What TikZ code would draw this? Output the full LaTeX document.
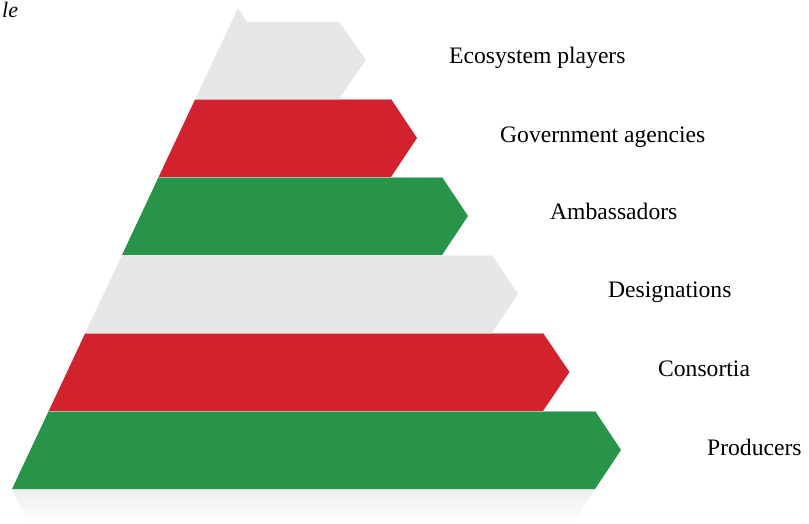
\documentclass[tikz,border=0pt]{standalone}
\usepackage{fontspec}
\setmainfont{Liberation Serif}
\definecolor{bandgray}{RGB}{230,231,232}
\definecolor{bandred}{RGB}{210,34,46}
\definecolor{bandgreen}{RGB}{39,148,74}
\definecolor{reflgray}{RGB}{238,238,238}
\begin{document}
\begin{tikzpicture}[x=1pt,y=-1pt,
  lbl/.style={anchor=base west,inner sep=0pt,font=\fontsize{23.6}{28}\selectfont}]
\useasboundingbox (0,0) rectangle (809,523);
% reflection
\shade[top color=reflgray,bottom color=white] (12,489) -- (595,489) -- (573,523) -- (28,523) -- cycle;
% bands, bottom to top
\fill[bandgreen] (12,489) -- (48.7,411) -- (595,411) -- (621,450) -- (595,489) -- cycle;
\fill[bandred] (48.7,411) -- (85.3,333) -- (543,333) -- (569.5,372) -- (543,411) -- cycle;
\fill[bandgray] (85.3,333) -- (122,255) -- (492,255) -- (518,294) -- (492,333) -- cycle;
\fill[bandgreen] (122,255) -- (158.6,177) -- (442,177) -- (468,216) -- (442,255) -- cycle;
\fill[bandred] (158.6,177) -- (195.3,99) -- (391,99) -- (417,138) -- (391,177) -- cycle;
\fill[bandgray] (195.3,99) -- (238,8) -- (247,21.5) -- (339,21.5) -- (366,60) -- (339,99) -- cycle;
% thin separators
\foreach \y/\xa/\xb in {411/48.7/595,333/85.3/543,255/122/492,177/158.6/442,99/195.3/391}
  \draw[white,opacity=0.5,line width=0.5pt] (\xa,\y) -- (\xb,\y);
% labels
\node[lbl] (l1) at (449,63) {Ecosystem players};
\node[lbl] (l2) at (500,142) {Government agencies};
\node[lbl] (l3) at (550,219) {Ambassadors};
\node[lbl] (l4) at (608,297) {Designations};
\node[lbl] (l5) at (658,376) {Consortia};
\node[lbl] (l6) at (707,455) {Producers};
\node[lbl,font=\fontsize{22}{26}\selectfont\itshape] (corner) at (2,17) {le};
\end{tikzpicture}
\end{document}
